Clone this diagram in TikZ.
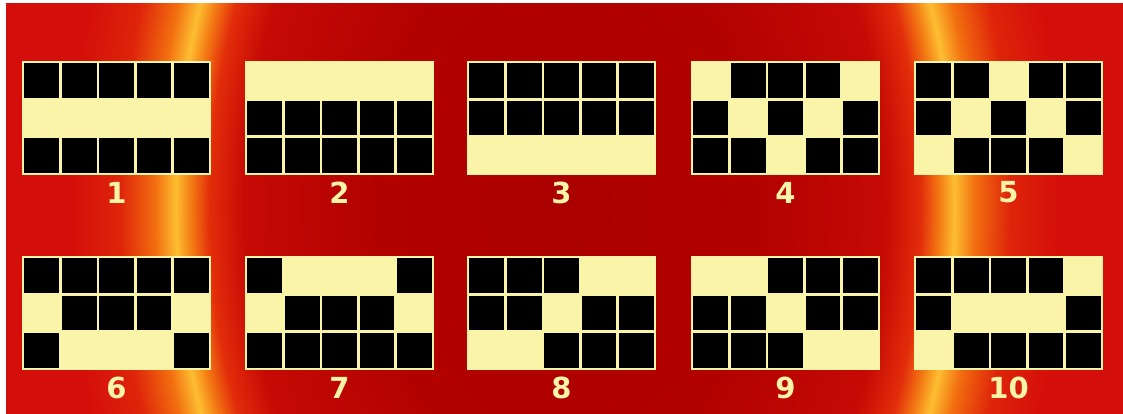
\documentclass[tikz,border=0pt]{standalone}
\usepackage{fontspec}
\newfontfamily\labfont{DejaVu Sans}
\definecolor{paleyel}{RGB}{250,244,168}
\definecolor{bgred}{RGB}{212,14,10}
\definecolor{sunA}{RGB}{170,0,0}
\definecolor{sunB}{RGB}{178,2,0}
\definecolor{sunC}{RGB}{198,10,5}
\definecolor{sunD}{RGB}{226,45,10}
\definecolor{sunE}{RGB}{244,125,20}
\definecolor{sunF}{RGB}{253,190,50}
\definecolor{sunG}{RGB}{242,110,15}
\definecolor{sunH}{RGB}{222,36,10}
\pgfdeclareradialshading{sunglow}{\pgfpoint{0bp}{0bp}}{%
 color(0bp)=(sunA); color(6bp)=(sunB); color(10bp)=(sunC); color(11.1bp)=(sunD);
 color(11.7bp)=(sunE); color(12.15bp)=(sunF); color(12.8bp)=(sunG); color(13.9bp)=(sunH);
 color(15.5bp)=(bgred); color(50bp)=(bgred)}
\tikzset{
 numlab/.style={font=\labfont\bfseries\fontsize{29}{29}\selectfont, text=paleyel, inner sep=0pt, anchor=center},
 palefill/.style={fill=paleyel},
 blackcell/.style={fill=black}
}
\newcommand\slotgrid[4]{%
 \fill[palefill] (#2-1.2,#3-1.2) rectangle (#2+188.2,#3+113.2);
 \foreach \v [count=\i from 0] in {#4}{%
   \ifnum\v=1
     \pgfmathtruncatemacro\gc{mod(\i,5)}%
     \pgfmathtruncatemacro\gr{div(\i,5)}%
     \fill[blackcell] ({#2+\gc*37.4+1.3},{#3+\gr*37.33+1.3}) rectangle ({#2+(\gc+1)*37.4-1.3},{#3+(\gr+1)*37.33-1.3});
   \fi}%
 \node[numlab] (lab#1) at ({#2+93.5},{#3+130.5}) {#1};
}
\begin{document}
\begin{tikzpicture}[x=1pt,y=-1pt]
\useasboundingbox (0,0) rectangle (1123,414);
\fill[white] (0,0) rectangle (1123,414);
\begin{scope}
 \clip (6,4) rectangle (1123,414);
 \fill[bgred] (6,4) rectangle (1123,414);
 \path[shading=sunglow] (-236,-993) rectangle (1366,1407);
\end{scope}
\slotgrid{1}{23}{62}{1,1,1,1,1,0,0,0,0,0,1,1,1,1,1}
\slotgrid{2}{246}{62}{0,0,0,0,0,1,1,1,1,1,1,1,1,1,1}
\slotgrid{3}{468}{62}{1,1,1,1,1,1,1,1,1,1,0,0,0,0,0}
\slotgrid{4}{692}{62}{0,1,1,1,0,1,0,1,0,1,1,1,0,1,1}
\slotgrid{5}{915}{62}{1,1,0,1,1,1,0,1,0,1,0,1,1,1,0}
\slotgrid{6}{23}{257}{1,1,1,1,1,0,1,1,1,0,1,0,0,0,1}
\slotgrid{7}{246}{257}{1,0,0,0,1,0,1,1,1,0,1,1,1,1,1}
\slotgrid{8}{468}{257}{1,1,1,0,0,1,1,0,1,1,0,0,1,1,1}
\slotgrid{9}{692}{257}{0,0,1,1,1,1,1,0,1,1,1,1,1,0,0}
\slotgrid{10}{915}{257}{1,1,1,1,0,1,0,0,0,1,0,1,1,1,1}
\end{tikzpicture}
\end{document}
